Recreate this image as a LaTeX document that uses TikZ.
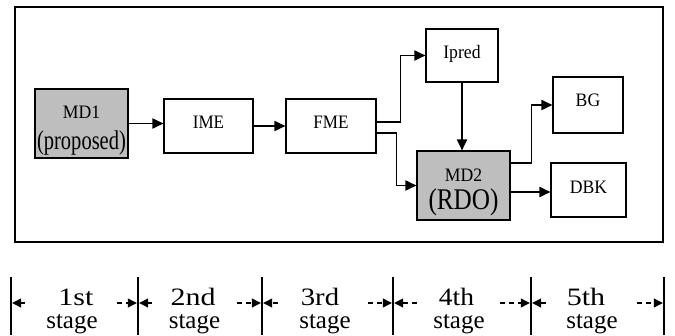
\documentclass[tikz,border=0pt]{standalone}
\usepackage{fontspec}
\setmainfont{Liberation Serif}
\usetikzlibrary{arrows.meta,calc}
\definecolor{boxgray}{HTML}{BEBEBE}
\begin{document}
\begin{tikzpicture}[x=1pt,y=-1pt,
  box/.style={draw, line width=1.1pt, inner sep=0pt, fill=white},
  graybox/.style={box, fill=boxgray},
  lbl/.style={inner sep=0pt, anchor=base, font=\fontsize{19}{20}\selectfont},
  flow/.style={line width=1.8pt, -{Triangle[length=11pt,width=10pt]}},
  tick/.style={line width=2.2pt},
  dim/.style={line width=1.2pt, dash pattern=on 5pt off 4pt, -{Triangle[length=9pt,width=9pt]}},
  stg/.style={inner sep=0pt, anchor=base, font=\fontsize{25}{25}\selectfont}]
\useasboundingbox (0,0) rectangle (675,335);

% outer frame
\draw[line width=2.6pt] (15,7) rectangle (663,242);

% processing blocks
\node[graybox, minimum width=93pt, minimum height=69pt] (md1) at (81.5,123.5) {};
\node[box, minimum width=89pt, minimum height=54pt] (ime) at (208.5,126) {};
\node[box, minimum width=90pt, minimum height=54pt] (fme) at (331,126) {};
\node[box, minimum width=72pt, minimum height=53pt] (ipred) at (462,55.5) {};
\node[box, minimum width=70pt, minimum height=56pt] (bg) at (588,105) {};
\node[graybox, minimum width=93pt, minimum height=69pt] (md2) at (463.5,185.5) {};
\node[box, minimum width=75pt, minimum height=54pt] (dbk) at (588.5,190) {};

% block labels
\node[lbl] (md1a) at (81.5,118.5) {\scalebox{0.93}[1]{MD1}};
\node[lbl, font=\fontsize{27}{28}\selectfont] (md1b) at (81.5,149) {\scalebox{0.76}[1]{(proposed)}};
\node[lbl] (imet) at (208.5,128) {\scalebox{0.9}[1]{IME}};
\node[lbl] (fmet) at (331,128) {\scalebox{0.9}[1]{FME}};
\node[lbl] (ipredt) at (462,58) {\scalebox{0.93}[1]{Ipred}};
\node[lbl] (bgt) at (588,106) {\scalebox{0.93}[1]{BG}};
\node[lbl] (md2a) at (463.5,181) {\scalebox{0.93}[1]{MD2}};
\node[lbl, font=\fontsize{30}{31}\selectfont] (md2b) at (463.5,209) {\scalebox{0.84}[1]{(RDO)}};
\node[lbl] (dbkt) at (588.5,193) {\scalebox{0.93}[1]{DBK}};

% data flow
\coordinate (fmeup) at ($(fme.east)+(0,-4)$);
\coordinate (fmedn) at ($(fme.east)+(0,7)$);
\coordinate (md2up) at ($(md2.east)+(0,-22.5)$);
\coordinate (md2dn) at ($(md2.east)+(0,6.5)$);
\draw[flow] (md1.east) -- (md1.east -| ime.west);
\draw[flow] (ime.east) -- (ime.east -| fme.west);
\draw[flow] (fmeup) -- ++(24,0) |- (ipred.west);
\draw[flow] (fmedn) -- ++(20,0) |- (md2.west);
\draw[flow] (ipred.south) -- (ipred.south |- md2.north);
\draw[flow] (md2up) -- ++(21,0) |- (bg.west);
\draw[flow] (md2dn) -- (md2dn -| dbk.west);

% pipeline stage boundaries
\foreach \i/\x in {0/11,1/138,2/262,3/393,4/531,5/664}{
  \coordinate (t\i) at (\x,303);
  \draw[tick] (\x,277) -- (\x,335);
}

% stage spans
\coordinate (s1l) at (25,303);  \coordinate (s1r) at (117,303);
\coordinate (s2l) at (152,303); \coordinate (s2r) at (237,303);
\coordinate (s3l) at (278,303); \coordinate (s3r) at (368,303);
\coordinate (s4l) at (417,303); \coordinate (s4r) at (500,303);
\coordinate (s5l) at (546,303); \coordinate (s5r) at (637,303);
\draw[dim] (s1l) -- ($(t0)+(1.2,0)$);
\draw[dim] (s1r) -- ($(t1)+(-1.2,0)$);
\draw[dim] (s2l) -- ($(t1)+(1.2,0)$);
\draw[dim] (s2r) -- ($(t2)+(-1.2,0)$);
\draw[dim] (s3l) -- ($(t2)+(1.2,0)$);
\draw[dim] (s3r) -- ($(t3)+(-1.2,0)$);
\draw[dim] (s4l) -- ($(t3)+(1.2,0)$);
\draw[dim] (s4r) -- ($(t4)+(-1.2,0)$);
\draw[dim] (s5l) -- ($(t4)+(1.2,0)$);
\draw[dim] (s5r) -- ($(t5)+(-1.2,0)$);

% stage names
\node[stg] (n1) at (76,305) {\scalebox{1.2}[1]{1st}};
\node[stg] (n2) at (193,305) {\scalebox{1.2}[1]{2nd}};
\node[stg] (n3) at (320,305) {\scalebox{1.15}[1]{3rd}};
\node[stg] (n4) at (456.5,305) {\scalebox{1.1}[1]{4th}};
\node[stg] (n5) at (586,305) {\scalebox{1.2}[1]{5th}};
\node[stg] (g1) at (72,328) {stage};
\node[stg] (g2) at (194.5,328) {stage};
\node[stg] (g3) at (325,328) {stage};
\node[stg] (g4) at (459,328) {stage};
\node[stg] (g5) at (592,328) {stage};
\end{tikzpicture}
\end{document}
